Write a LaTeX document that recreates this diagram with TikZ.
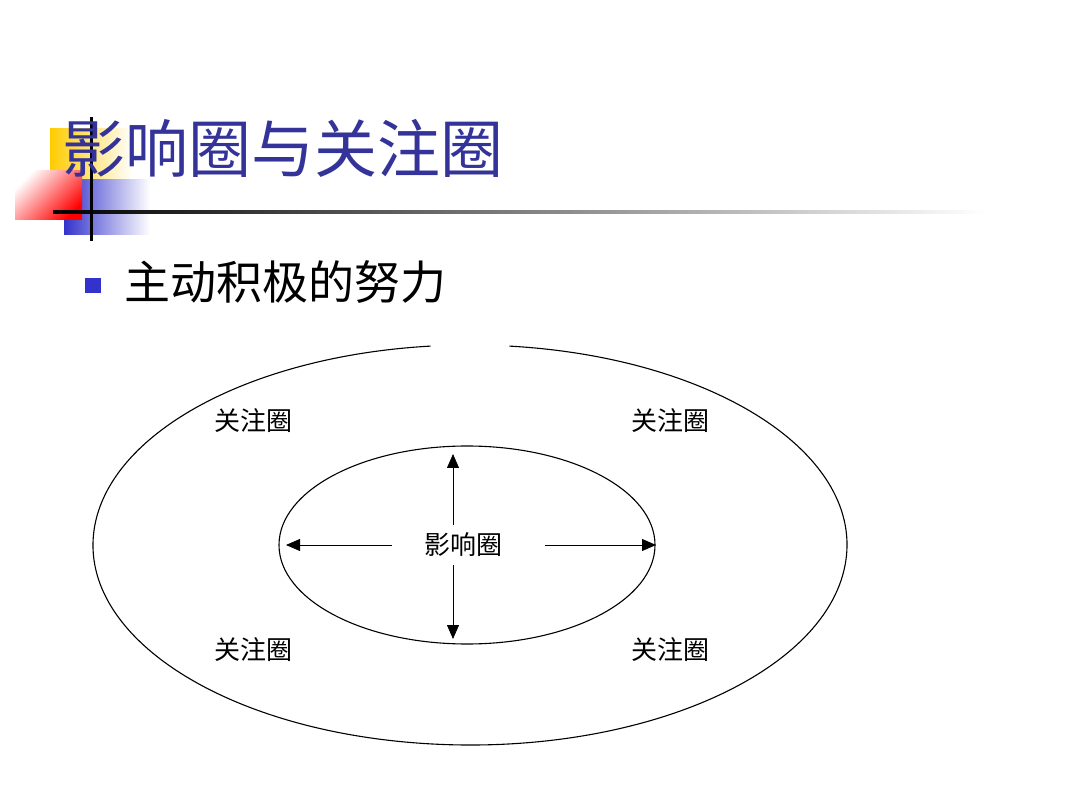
\documentclass[tikz,border=0pt]{standalone}
\usepackage{fontspec}
\newfontfamily\cjk{Noto Sans CJK SC}
\usetikzlibrary{arrows.meta}
\definecolor{titleblue}{RGB}{51,51,153}
\definecolor{barblue}{RGB}{51,51,204}
\definecolor{boxyellow}{RGB}{255,204,0}
\begin{document}
\begin{tikzpicture}[x=1pt,y=-1pt,
  ring/.style={line width=1.1pt},
  push/.style={line width=0.8pt,-{Triangle[length=14pt,width=12pt]}},
  tag/.style={font=\cjk\fontsize{26}{26}\selectfont,inner sep=0}]
\useasboundingbox (0,0) rectangle (1080,810);
% title decoration
\shade[left color=boxyellow,right color=white] (50,129) rectangle (132,182);
\shade[left color=barblue,middle color=barblue,right color=white] (64,180) rectangle (150,235);
\shade[left color=white,right color=red,shading angle=45] (15,171) rectangle (82,220);
\shade[left color=black,right color=white] (53,210.5) rectangle (985,213.5);
\draw[line width=3pt] (91,117) -- (91,241);
\node[anchor=west,text=titleblue,font=\cjk\fontsize{63}{63}\selectfont,inner sep=0] (title) at (62,148) {影响圈与关注圈};
% bullet
\fill[barblue] (85,278) rectangle (101,293);
\node[anchor=west,font=\cjk\fontsize{46}{46}\selectfont,inner sep=0] (sub) at (124,282) {主动积极的努力};
% rings
\draw[ring] (470,545) ++(-84:377 and 200) arc[start angle=-84,end angle=264,x radius=377,y radius=200];
\draw[ring] (467,545) ellipse[x radius=188,y radius=99];
\node[tag] (inner) at (463,545) {影响圈};
\node[tag] (c1) at (253,421) {关注圈};
\node[tag] (c2) at (670,421) {关注圈};
\node[tag] (c3) at (253,650) {关注圈};
\node[tag] (c4) at (670,650) {关注圈};
\coordinate (n) at (453,454);
\coordinate (s) at (453,639);
\coordinate (w) at (286,545);
\coordinate (e) at (656,545);
\draw[push] (453,525) -- (n);
\draw[push] (453,565) -- (s);
\draw[push] (392,545) -- (w);
\draw[push] (545,545) -- (e);
\end{tikzpicture}
\end{document}
